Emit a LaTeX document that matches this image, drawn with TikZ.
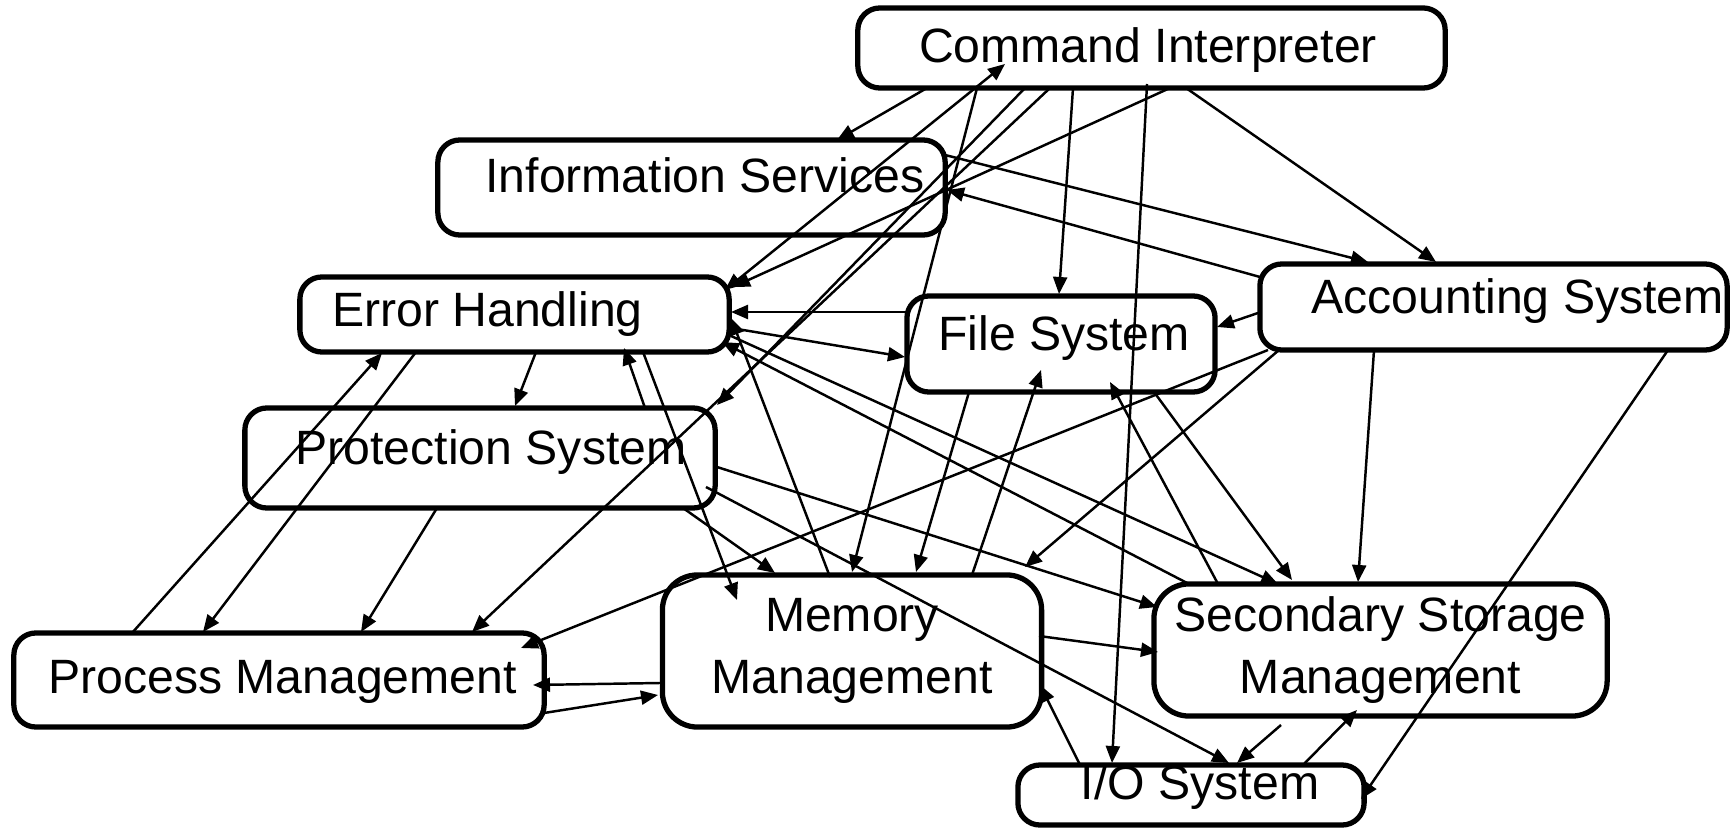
\documentclass[tikz,border=0pt]{standalone}
\usepackage{fontspec}
\setmainfont{Liberation Sans}
\usetikzlibrary{arrows.meta}
\tikzset{
  blk/.style={draw,line width=1.5pt,rounded corners=0.22cm,inner sep=0pt},
  lbl/.style={font=\fontsize{13.7}{17.6}\selectfont,inner sep=0pt},
  conn/.style={line width=0.7pt,-{Triangle[length=0.17cm,width=0.14cm]}},
  both/.style={line width=0.7pt,{Triangle[length=0.17cm,width=0.14cm]}-{Triangle[length=0.17cm,width=0.14cm]}}
}
\begin{document}
\begin{tikzpicture}[x=0.01cm,y=-0.01cm,line join=round]
\useasboundingbox (0,0) rectangle (1731,828);
\node[blk,minimum width=5.87cm,minimum height=0.8cm] (cmd) at (1151.5,48) {};
\node[blk,minimum width=5.07cm,minimum height=0.95cm] (info) at (691.5,187.5) {};
\node[blk,minimum width=4.29cm,minimum height=0.75cm] (err) at (514.5,314.5) {};
\node[blk,minimum width=4.7cm,minimum height=1cm] (prot) at (480,458) {};
\node[blk,minimum width=3.08cm,minimum height=0.96cm] (file) at (1061,344) {};
\node[blk,minimum width=4.67cm,minimum height=0.86cm] (acct) at (1493.5,307) {};
\node[blk,minimum width=5.3cm,minimum height=0.94cm] (proc) at (279,680) {};
\node[blk,lbl,rounded corners=0.35cm,minimum width=3.79cm,minimum height=1.52cm,align=center] (mem) at (852,651) {Memory\\Management};
\node[blk,lbl,rounded corners=0.35cm,minimum width=4.53cm,minimum height=1.32cm,align=center] (sec) at (1380.5,650) {Secondary Storage\\Management};
\node[blk,minimum width=3.46cm,minimum height=0.6cm] (io) at (1191,795) {};
\node[lbl] (cmdT) at ([shift={(-3.5,2)}]cmd.center) {Command Interpreter};
\node[lbl] (infoT) at ([shift={(13.5,-12.7)}]info.center) {Information Services};
\node[lbl] (errT) at ([shift={(-27,-0.5)}]err.center) {Error Handling};
\node[lbl] (protT) at ([shift={(11,-6)}]prot.center) {Protection System};
\node[lbl] (fileT) at ([shift={(3,-6)}]file.center) {File System};
\node[lbl] (acctT) at ([shift={(24,-6)}]acct.center) {Accounting System};
\node[lbl] (procT) at ([shift={(3.5,2)}]proc.center) {Process Management};
\node[lbl] (ioT) at ([shift={(9,-8)}]io.center) {I/O System};
\draw[conn] ([shift={(-224.5,40)}]cmd.center) -- ([shift={(145.5,-47.5)}]info.center);
\draw[both] ([shift={(210.5,-24.5)}]err.center) -- ([shift={(-146.5,16)}]cmd.center);
\draw[conn] ([shift={(18.5,40)}]cmd.center) -- ([shift={(218.5,-27.5)}]err.center);
\draw[conn] ([shift={(-174.5,40)}]cmd.center) -- ([shift={(0,-79)}]mem.center);
\draw[conn] ([shift={(-126.5,40)}]cmd.center) -- ([shift={(237,-53)}]prot.center);
\draw[conn] ([shift={(-101.5,40)}]cmd.center) -- ([shift={(193,-48)}]proc.center);
\draw[conn] ([shift={(-78.5,40)}]cmd.center) -- ([shift={(-2,-50)}]file.center);
\draw[conn] ([shift={(-4.5,36)}]cmd.center) -- ([shift={(-79,-32)}]io.center);
\draw[conn] ([shift={(34.5,40)}]cmd.center) -- ([shift={(-57.5,-45)}]acct.center);
\draw[conn] ([shift={(253.5,-32.5)}]info.center) -- ([shift={(-125.5,-45)}]acct.center);
\draw[conn] ([shift={(-233.5,-30)}]acct.center) -- ([shift={(255.5,2.5)}]info.center);
\draw[conn] ([shift={(-235.5,6)}]acct.center) -- ([shift={(156,-17)}]file.center);
\draw[conn] ([shift={(-154,-32)}]file.center) -- ([shift={(216.5,-2.5)}]err.center);
\draw[conn] ([shift={(216.5,13.5)}]err.center) -- ([shift={(-156,13)}]file.center);
\draw[conn] ([shift={(21.5,37.5)}]err.center) -- ([shift={(35,-52)}]prot.center);
\draw[conn] ([shift={(-147,-47)}]proc.center) -- ([shift={(-132.5,38.5)}]err.center);
\draw[conn] ([shift={(-98.5,37.5)}]err.center) -- ([shift={(-76,-48)}]proc.center);
\draw[conn] ([shift={(165,-50)}]prot.center) -- ([shift={(109.5,33.5)}]err.center);
\draw[conn] ([shift={(128.5,37.5)}]err.center) -- ([shift={(-115,-51)}]mem.center);
\draw[conn] ([shift={(-22,-74)}]mem.center) -- ([shift={(216.5,3.5)}]err.center);
\draw[conn] ([shift={(-191.5,-66)}]sec.center) -- ([shift={(207.5,27.5)}]err.center);
\draw[conn] ([shift={(216.5,21.5)}]err.center) -- ([shift={(-102.5,-66)}]sec.center);
\draw[conn] ([shift={(-43,50)}]prot.center) -- ([shift={(82,-48)}]proc.center);
\draw[conn] ([shift={(203,50)}]prot.center) -- ([shift={(-77,-78)}]mem.center);
\draw[conn] ([shift={(237,9)}]prot.center) -- ([shift={(-223.5,-43)}]sec.center);
\draw[conn] ([shift={(226,29)}]prot.center) -- ([shift={(38,-32)}]io.center);
\draw[conn] ([shift={(-192,32)}]mem.center) -- ([shift={(254,5)}]proc.center);
\draw[conn] ([shift={(265,33)}]proc.center) -- ([shift={(-194,44)}]mem.center);
\draw[conn] ([shift={(-225.5,43)}]acct.center) -- ([shift={(242,-32)}]proc.center);
\draw[conn] ([shift={(-214.5,43)}]acct.center) -- ([shift={(173,-84)}]mem.center);
\draw[conn] ([shift={(-119.5,43)}]acct.center) -- ([shift={(-22.5,-68)}]sec.center);
\draw[conn] ([shift={(174.5,43)}]acct.center) -- ([shift={(170,4)}]io.center);
\draw[conn] ([shift={(-92,48)}]file.center) -- ([shift={(64,-79)}]mem.center);
\draw[conn] ([shift={(120,-76)}]mem.center) -- ([shift={(-20,26)}]file.center);
\draw[conn] ([shift={(-162.5,-66)}]sec.center) -- ([shift={(49,38)}]file.center);
\draw[conn] ([shift={(93,48)}]file.center) -- ([shift={(-88.5,-70)}]sec.center);
\draw[conn] ([shift={(187,-15)}]mem.center) -- ([shift={(-222.5,2)}]sec.center);
\draw[conn] ([shift={(-111,-30)}]io.center) -- ([shift={(188,34)}]mem.center);
\draw[conn] ([shift={(-99.5,75)}]sec.center) -- ([shift={(46,-32)}]io.center);
\draw[conn] ([shift={(112,-30)}]io.center) -- ([shift={(-23.5,60)}]sec.center);
\end{tikzpicture}
\end{document}
